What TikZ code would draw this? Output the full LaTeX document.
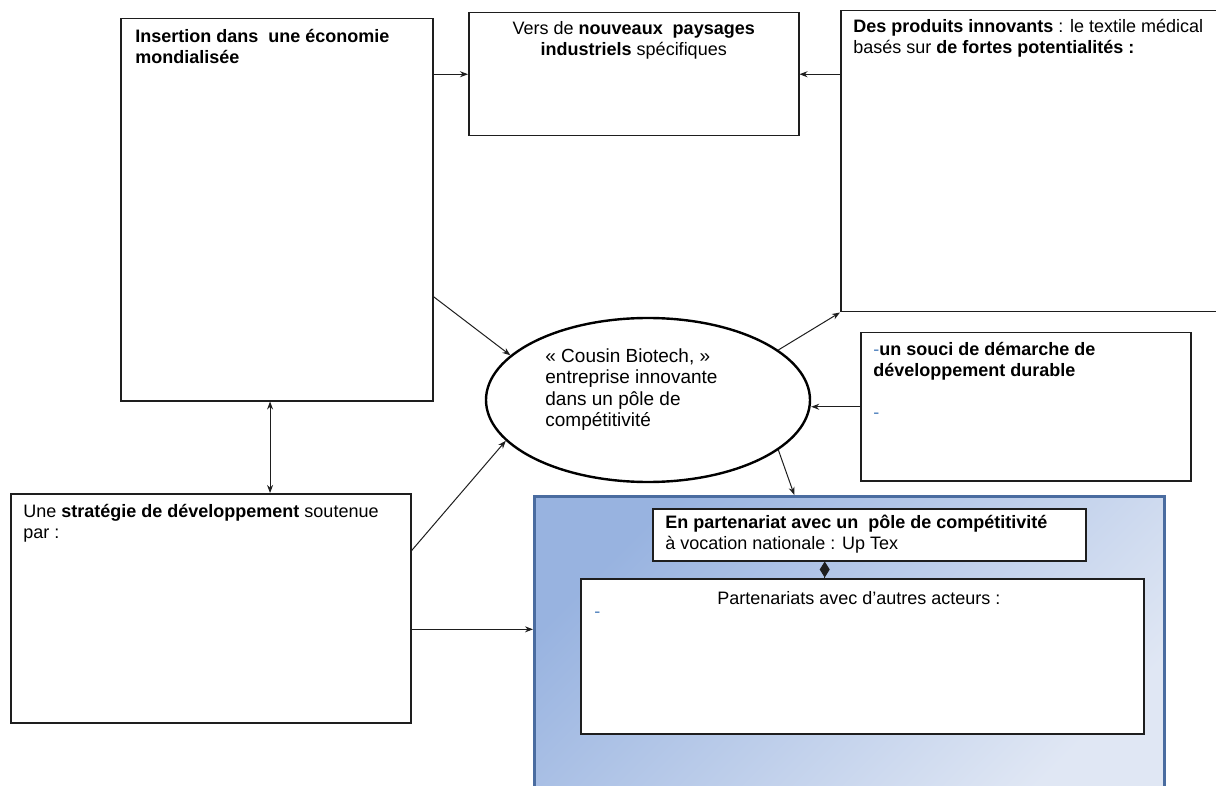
\documentclass[tikz,border=0pt]{standalone}
\usepackage{fontspec}
\setmainfont{Liberation Sans}
\definecolor{boxline}{RGB}{30,30,30}
\definecolor{poletop}{RGB}{152,179,224}
\definecolor{polebottom}{RGB}{224,231,244}
\definecolor{poleline}{RGB}{74,108,160}
\definecolor{dashblue}{RGB}{79,129,189}
\usetikzlibrary{shapes, arrows.meta, positioning, calc}

\tikzset{
    frame/.style={draw=boxline, line width=0.75pt, anchor=north west, inner sep=0pt},
    txt/.style={font=\fontsize{9}{10.5}\selectfont, inner sep=0pt, align=left, anchor=north west},
    link/.style={draw=boxline, line width=0.5pt, ->},
}

\begin{document}
\begin{tikzpicture}[x=0.5pt, y=-0.5pt, >={Stealth[length=4pt, width=3pt]}]
        \clip (0,0) rectangle (1216,786);

        \node[frame, minimum width=156pt, minimum height=191pt] (insertion) at (120,18) {};
        \node[frame, minimum width=165pt, minimum height=61.5pt] (vers) at (468,12) {};
        \node[frame, minimum width=195pt, minimum height=150.5pt] (produits) at (840,10) {};
        \node[frame, minimum width=165pt, minimum height=74pt] (souci) at (860,332) {};
        \node[frame, minimum width=200pt, minimum height=114.5pt] (strategie) at (10,493) {};
        \node[frame, draw=poleline, line width=1.4pt, top color=poletop, bottom color=polebottom, shading angle=45,
            minimum width=315pt, minimum height=150pt] (pole) at (533,495) {};
        \node[frame, fill=white, minimum width=216.5pt, minimum height=26pt] (upTex) at (652,508) {};
        \node[frame, fill=white, minimum width=281.5pt, minimum height=77.5pt] (acteurs) at (580,578) {};
        \node[draw=black, line width=1.2pt, ellipse, fill=white, minimum width=162pt, minimum height=82pt, inner sep=0pt] (cb) at (648,400) {};

        \node[txt] (insertion-txt) at ($(insertion.north west)+(15,11)$) {
            \textbf{Insertion dans\ \ une économie}\\
            \textbf{mondialisée}
        };
        \node[txt, align=center, anchor=north] (vers-txt) at ($(vers.north)+(0,9)$) {
            Vers de \textbf{nouveaux\ \ paysages}\\
            \textbf{industriels} spécifiques
        };
        \node[txt] (produits-txt) at ($(produits.north west)+(13,9)$) {
            \textbf{Des produits innovants} : le textile médical\\
            basés sur \textbf{de fortes potentialités :}
        };
        \node[txt] (souci-txt) at ($(souci.north west)+(13,10)$) {
            \textcolor{dashblue}{-}\textbf{un souci de démarche de}\\
            \textbf{développement durable}\\[10.5pt]
            \textcolor{dashblue}{-}
        };
        \node[txt, font=\fontsize{9.5}{10.8}\selectfont] (cb-txt) at ($(cb.center)+(-103,-52)$) {
            « Cousin Biotech, »\\
            entreprise innovante\\
            dans un pôle de\\
            compétitivité
        };
        \node[txt] (strategie-txt) at ($(strategie.north west)+(13,11)$) {
            Une \textbf{stratégie de développement} soutenue\\
            par :
        };
        \node[txt] (upTex-txt) at ($(upTex.north west)+(13,7)$) {
            \textbf{En partenariat avec un\ \ pôle de compétitivité}\\
            à vocation nationale : Up Tex
        };
        \node[txt, anchor=north] (acteurs-txt) at ($(acteurs.north)+(0,13)$) {
            Partenariats avec d’autres acteurs :
        };
        \node[txt, text=dashblue] (acteurs-dash) at ($(acteurs.north west)+(14,34)$) {-};

        \draw[link] (insertion.east |- vers.west) -- (vers.west);
        \draw[link] (produits.west |- vers.east) -- (vers.east);
        \draw[link] (insertion.-29.7) -- (cb.162);
        \draw[link] (strategie.16) -- (cb.196);
        \draw[link] (cb.21) -- (produits.south west);
        \draw[link] (souci.west) -- (souci.west -| cb.east);
        \draw[link] (cb.-21) -- (pole.110.5);
        \draw[link] (strategie.-6) -- (strategie.-6 -| pole.west);
        \draw[link, <->] (insertion.-92.4) -- (insertion.-92.4 |- strategie.north);
        \draw[draw=boxline, line width=0.5pt, {Diamond[length=8pt, width=5pt]}-] (upTex.211.5) -- (upTex.211.5 |- acteurs.north);
    \end{tikzpicture}
\end{document}
